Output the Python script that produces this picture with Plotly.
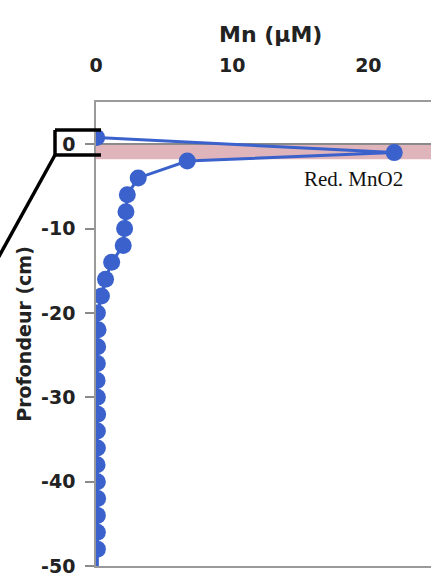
import plotly.graph_objects as go

# Data
mn_uM = [0.05, 21.9, 6.7, 3.1, 2.3, 2.2, 2.1, 2.0, 1.15, 0.7, 0.4, 0.1, 0.15,
         0.12, 0.1, 0.08, 0.1, 0.12, 0.1, 0.1, 0.08, 0.1, 0.12, 0.1, 0.1, 0.1, 0.1]
depth_cm = [0.8, -1, -2, -4, -6, -8, -10, -12, -14, -16, -18, -20, -22,
            -24, -26, -28, -30, -32, -34, -36, -38, -40, -42, -44, -46, -48, -50]

x_ticks = [0, 10, 20]
y_ticks = [0, -10, -20, -30, -40, -50]
y_tick_labels = ["0", "-10", "-20", "-30", "-40", "-50"]
band_top, band_bottom = 0, -1.8
band_label = "Red. MnO2"
x_title = "Mn (μM)"
y_title = "Profondeur (cm)"

W, H = 431, 588
ML, MR, MT, MB = 96, 0, 102, 22
PW, PH = W - ML - MR, H - MT - MB

def px_x(px):
    return (px - ML) / PW

def px_y(py):
    return (H - MB - py) / PH

BLUE = "#3a61cc"
sizes = [17] * (len(depth_cm) - 1) + [0]

fig = go.Figure()
fig.add_trace(go.Scatter(
    x=mn_uM, y=depth_cm, mode="lines+markers",
    line=dict(color=BLUE, width=3),
    marker=dict(color=BLUE, size=sizes, opacity=1, line=dict(width=0)),
    showlegend=False,
))

# reduction band
fig.add_shape(type="rect", xref="paper", yref="y", x0=0, x1=1,
              y0=band_bottom, y1=band_top, fillcolor="#dfb4ba",
              line=dict(width=0), layer="below")

fig.add_annotation(x=18.9, y=-4.15, xref="x", yref="y", text=band_label,
                   showarrow=False,
                   font=dict(family="Liberation Serif", size=21, color="#111"))

# x-axis title (the original axis continues past the cropped right edge)
fig.add_annotation(x=px_x(270), y=px_y(34), xref="paper", yref="paper",
                   text=x_title, showarrow=False, xanchor="center", yanchor="middle",
                   font=dict(family="DejaVu Sans", size=22, color="#222", weight="bold"))

# zoom bracket decoration around the 0 label
blk = dict(color="black", width=3.5)
for (x0, y0, x1, y1) in [(55, 130, 101, 130), (55, 130, 55, 155),
                         (55, 155, 101, 155), (55, 155, -3, 260)]:
    fig.add_shape(type="line", xref="paper", yref="paper",
                  x0=px_x(x0), y0=px_y(y0), x1=px_x(x1), y1=px_y(y1), line=blk)

tick_font = dict(family="DejaVu Sans", size=19, color="#222", weight="bold")

fig.update_layout(
    width=W, height=H,
    margin=dict(l=ML, r=MR, t=MT, b=MB, pad=0, autoexpand=False),
    paper_bgcolor="white", plot_bgcolor="white",
    xaxis=dict(
        side="top", range=[0, 24.6], tickvals=x_ticks, automargin=False,
        ticks="outside", ticklen=0, ticklabelstandoff=21,
        tickfont=tick_font, showgrid=False, zeroline=False,
        showline=True, linecolor="#9a9a9a", linewidth=1.5, mirror=True,
    ),
    yaxis=dict(
        range=[-50, 5], tickvals=y_ticks, ticktext=y_tick_labels, automargin=False,
        ticks="outside", ticklen=9, tickwidth=1.5, tickcolor="#8a8a8a",
        ticklabelstandoff=6,
        tickfont=tick_font, showgrid=False,
        zeroline=True, zerolinecolor="#8a8a8a", zerolinewidth=1.5,
        showline=True, linecolor="#9a9a9a", linewidth=1.5, mirror=True,
        title=dict(text=y_title, standoff=4,
                   font=dict(family="DejaVu Sans", size=19, color="#222", weight="bold")),
    ),
)

fig.write_html("out.html", config={"displayModeBar": False},
               post_script="document.body.style.margin='0';document.body.style.overflow='hidden';")
